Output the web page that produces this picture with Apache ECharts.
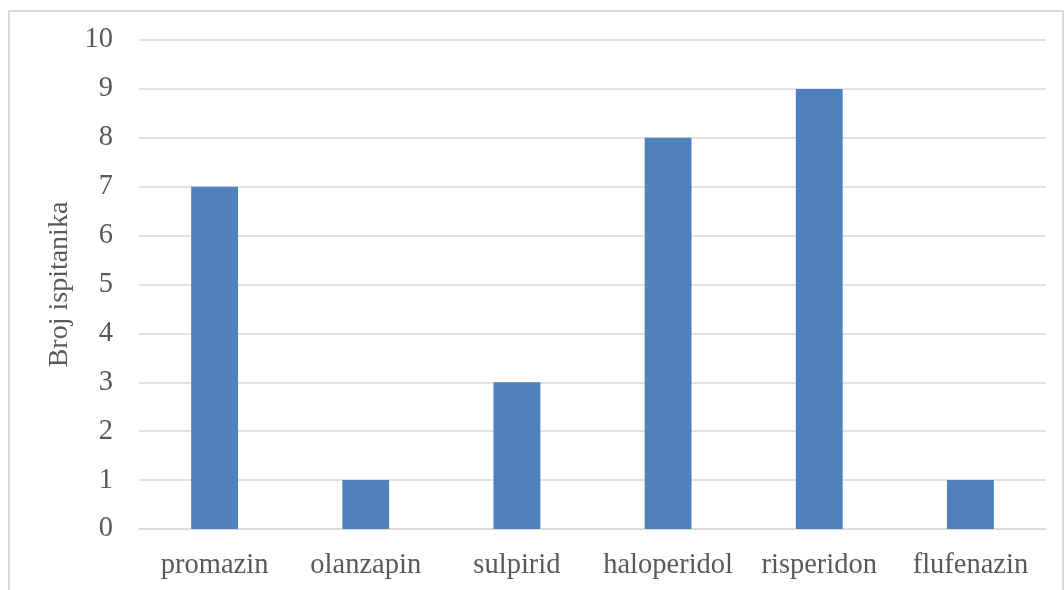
<!DOCTYPE html>
<html>
<head>
<meta charset="utf-8">
<script src="https://cdn.jsdelivr.net/npm/echarts@6/dist/echarts.min.js"></script>
<style>html,body{margin:0;padding:0;background:#fff}#c{width:1064px;height:590px}</style>
</head>
<body>
<div id="c"></div>
<script>
const categories = ['promazin', 'olanzapin', 'sulpirid', 'haloperidol', 'risperidon', 'flufenazin'];
const values = [7, 1, 3, 8, 9, 1];
const yAxisTitle = 'Broj ispitanika';

const chart = echarts.init(document.getElementById('c'), null, {renderer: 'canvas'});
const font = 'Liberation Serif, Times New Roman, serif';
chart.setOption({
  animation: false,
  backgroundColor: '#fff',
  graphic: [{
    type: 'rect', silent: true, z: -1,
    shape: {x: 9, y: 11, width: 1054, height: 700},
    style: {fill: 'none', stroke: '#D9D9D9', lineWidth: 2}
  }],
  grid: {left: 139, right: 18, top: 40, bottom: 61, containLabel: false},
  xAxis: {
    type: 'category',
    data: categories,
    axisLine: {lineStyle: {color: '#D9D9D9', width: 1.5}},
    axisTick: {show: false},
    axisLabel: {color: '#595959', fontFamily: font, fontSize: 28.5, margin: 22, interval: 0}
  },
  yAxis: {
    type: 'value', min: 0, max: 10, interval: 1,
    name: yAxisTitle, nameLocation: 'middle', nameGap: 62,
    nameTextStyle: {color: '#595959', fontFamily: font, fontSize: 28},
    axisLine: {show: false}, axisTick: {show: false},
    splitLine: {lineStyle: {color: '#D9D9D9', width: 1.5}},
    axisLabel: {color: '#595959', fontFamily: font, fontSize: 28.5, margin: 26}
  },
  series: [{
    type: 'bar', data: values, barWidth: '31%',
    itemStyle: {color: '#4F81BD'}
  }]
});
</script>
</body>
</html>
